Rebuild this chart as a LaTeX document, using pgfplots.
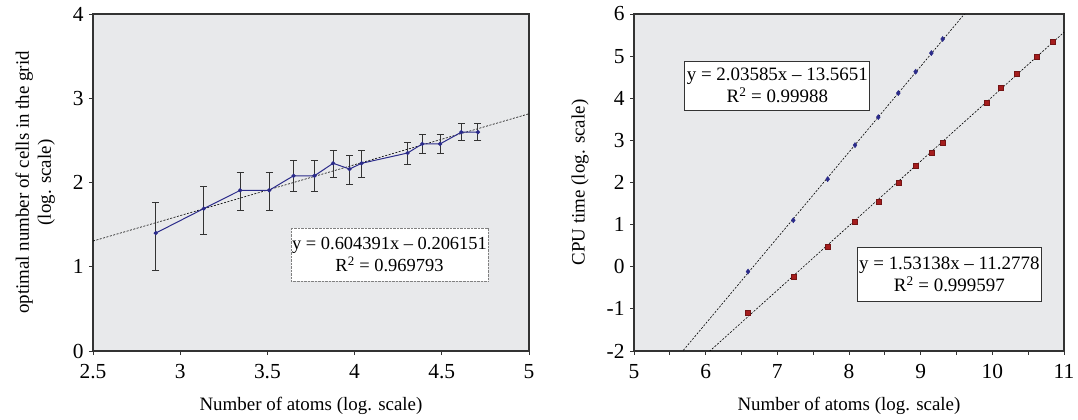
\documentclass[border=0pt]{standalone}
\usepackage{pgfplots}
\pgfplotsset{compat=1.18}
\usepackage{fontspec}
\setmainfont{Liberation Serif}
\definecolor{bg}{HTML}{E8E9EB}
\definecolor{navy}{HTML}{2B2B8A}
\definecolor{dred}{HTML}{A51D1D}
\definecolor{axc}{HTML}{333333}
\begin{document}
\begin{tikzpicture}[x=1bp,y=1bp]
\useasboundingbox (0bp,0bp) rectangle (1078bp,420bp);
\pgfplotsset{
  every axis/.append style={
    scale only axis,
    axis background/.style={fill=bg},
    axis line style={axc,line width=1.2pt},
    tick align=outside,
    tick pos=left,
    major tick length=4bp,
    minor tick length=4bp,
    every tick/.style={axc,line width=0.8pt},
    tick label style={font=\fontsize{21.5}{24}\selectfont},
    label style={font=\fontsize{19}{22}\selectfont},
    xticklabel shift=6bp,
    yticklabel shift=2bp,
    xlabel style={yshift=-11bp},
    ylabel shift=11bp,
    clip=true,
  }
}
% ---------- left ----------
\begin{axis}[
  at={(93bp,69bp)}, anchor=south west,
  width=436bp, height=337bp,
  xmin=2.5, xmax=5, ymin=0, ymax=4,
  xtick={2.5,3,3.5,4,4.5,5},
  xticklabels={2.5,3,3.5,4,4.5,5},
  ytick={0,1,2,3,4},
  yticklabels={0,1,2,3,4},
  xlabel={Number of atoms (log. scale)},
  ylabel={optimal number of cells in the grid\\(log. scale)},
  ylabel style={align=center},
]
\addplot[black, line width=0.6pt, domain=2.5:5, samples=2, dash pattern=on 2bp off 1.5bp] {0.604391*x-0.206151};
\addplot[navy, line width=1pt, mark=*, mark size=1.6bp, mark options={fill=navy},
  error bars/.cd, y dir=both, y explicit,
  error bar style={axc,line width=1pt},
  error mark options={rotate=90, mark size=3.5bp, axc, line width=1pt}]
coordinates {
(2.86,1.40) += (0,0.365) -= (0,0.45)
(3.135,1.69) += (0,0.265) -= (0,0.31)
(3.344,1.907) += (0,0.21) -= (0,0.234)
(3.51,1.907) += (0,0.21) -= (0,0.234)
(3.65,2.08) += (0,0.176) -= (0,0.19)
(3.77,2.08) += (0,0.176) -= (0,0.19)
(3.877,2.228) += (0,0.147) -= (0,0.163)
(3.971,2.16) += (0,0.16) -= (0,0.18)
(4.04,2.228) += (0,0.147) -= (0,0.163)
(4.304,2.35) += (0,0.13) -= (0,0.134)
(4.388,2.458) += (0,0.115) -= (0,0.119)
(4.49,2.458) += (0,0.115) -= (0,0.119)
(4.612,2.597) += (0,0.103) -= (0,0.097)
(4.707,2.597) += (0,0.103) -= (0,0.097)
};
\node[draw=gray, densely dotted, fill=white, align=center, inner sep=1bp,
  minimum width=185bp, minimum height=53bp, font=\fontsize{18.5}{22}\selectfont]
  at (axis cs:4.2,1.145) {y = 0.604391x -- 0.206151\\R\textsuperscript{2} = 0.969793};
\end{axis}
% ---------- right ----------
\begin{axis}[
  at={(634bp,69bp)}, anchor=south west,
  width=430bp, height=337bp,
  xmin=5, xmax=11, ymin=-2, ymax=6,
  xtick={5,6,7,8,9,10,11},
  xticklabels={5,6,7,8,9,10,11},
  minor xtick={5.5,6.5,7.5,8.5,9.5,10.5},
  ytick={-2,-1,0,1,2,3,4,5,6},
  yticklabels={-2,-1,0,1,2,3,4,5,6},
  xlabel={Number of atoms (log. scale)},
  ylabel={CPU time (log. scale)},
]
\addplot[black, line width=0.6pt, domain=5:11, samples=2, dash pattern=on 2bp off 1.5bp] {2.03585*x-13.5651};
\addplot[black, line width=0.6pt, domain=5:11, samples=2, dash pattern=on 2bp off 1.5bp] {1.53138*x-11.2778};
\addplot[only marks, mark=diamond*, mark size=2.6bp, navy, mark options={fill=navy}] coordinates {
(6.591,-0.115) (7.223,1.105) (7.702,2.079) (8.084,2.887) (8.409,3.552)
(8.688,4.123) (8.930,4.63) (9.149,5.073) (9.307,5.406)
};
\addplot[only marks, mark=square*, mark size=2.5bp, mark options={fill=dred, draw=dred!70!black}] coordinates {
(6.591,-1.089) (7.223,-0.242) (7.702,0.479) (8.084,1.081) (8.409,1.541)
(8.688,1.984) (8.930,2.404) (9.149,2.713) (9.307,2.943) (9.916,3.901)
(10.116,4.242) (10.340,4.582) (10.619,4.994) (10.842,5.350)
};
\node[draw=axc, line width=0.8pt, fill=white, align=center, inner sep=2bp,
  minimum width=163bp, minimum height=49bp, font=\fontsize{19}{22}\selectfont]
  at (axis cs:7.0,4.30) {y = 2.03585x -- 13.5651\\R\textsuperscript{2} = 0.99988};
\node[draw=axc, line width=0.8pt, fill=white, align=center, inner sep=2bp,
  minimum width=171bp, minimum height=54bp, font=\fontsize{19}{22}\selectfont]
  at (axis cs:9.40,-0.18) {y = 1.53138x -- 11.2778\\R\textsuperscript{2} = 0.999597};
\end{axis}
\end{tikzpicture}
\end{document}
